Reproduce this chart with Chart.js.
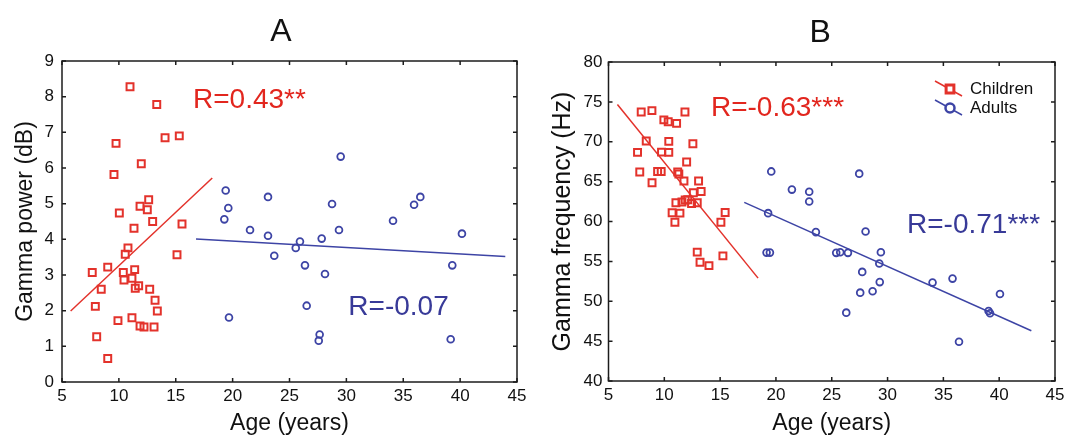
<!DOCTYPE html>
<html>
<head>
<meta charset="utf-8">
<script src="https://cdn.jsdelivr.net/npm/chart.js@4/dist/chart.umd.min.js"></script>
<style>
  html, body { margin: 0; padding: 0; background: #fff; }
  .panel { position: absolute; top: 0; }
  #wrapA { left: 0; }
  #wrapB { left: 540px; }
</style>
</head>
<body>
<div class="panel" id="wrapA"><canvas id="chartA" width="540" height="437"></canvas></div>
<div class="panel" id="wrapB"><canvas id="chartB" width="529" height="437"></canvas></div>
<script>
// Panel A: gamma power vs age
const childAgeA = [10.98, 13.33, 9.75, 14.06, 15.31, 11.97, 9.57, 12.62, 11.86, 12.5, 10.04, 12.97, 11.33, 15.55,
  10.8, 10.56, 15.11, 9.02, 7.66, 10.39, 11.39, 10.45, 11.15, 11.44, 11.74, 8.45, 12.71, 13.18, 13.38,
  7.93, 9.92, 11.15, 11.86, 12.21, 13.09, 8.05, 9.02];
const childPowerA = [8.28, 7.78, 6.69, 6.85, 6.9, 6.12, 5.82, 5.11, 4.93, 4.83, 4.74, 4.5, 4.31, 4.43,
  3.76, 3.58, 3.57, 3.22, 3.07, 3.07, 3.15, 2.86, 2.91, 2.63, 2.7, 2.6, 2.6, 2.29, 1.99,
  2.12, 1.72, 1.8, 1.57, 1.54, 1.54, 1.27, 0.66];
const adultAgeA = [29.5, 19.39, 23.11, 36.5, 35.95, 28.74, 19.62, 19.27, 34.1, 21.53, 29.35, 40.16, 23.11,
  27.83, 25.92, 25.55, 23.66, 39.31, 26.36, 28.12, 26.51, 19.68, 27.65, 27.57, 39.17];
const adultPowerA = [6.32, 5.37, 5.19, 5.19, 4.97, 4.99, 4.88, 4.56, 4.52, 4.26, 4.26, 4.16, 4.1,
  4.02, 3.94, 3.76, 3.54, 3.27, 3.27, 3.03, 2.14, 1.81, 1.33, 1.16, 1.2];
const childFitAgeA = [5.76, 18.21];
const childFitPowerA = [1.99, 5.72];
const adultFitAgeA = [16.78, 43.97];
const adultFitPowerA = [4.01, 3.52];

// Panel B: gamma frequency vs age
const childAgeB = [7.93, 8.89, 9.96, 10.35, 11.1, 11.85, 8.38, 10.4, 12.56, 7.6, 9.75, 10.4, 12.0, 7.8,
  9.4, 9.72, 11.2, 11.3, 8.9, 11.76, 13.07, 13.3, 12.6, 11.04, 11.58, 11.87, 12.1, 12.44, 12.95,
  10.7, 11.4, 10.95, 15.45, 15.07, 12.95, 13.2, 14.0, 15.25];
const childFreqB = [73.74, 73.9, 72.74, 72.5, 72.3, 73.74, 70.1, 70.05, 69.76, 68.67, 68.7, 68.67, 67.46, 66.2,
  66.28, 66.28, 66.2, 65.95, 64.86, 65.07, 65.07, 63.77, 63.6, 62.35, 62.44, 62.69, 62.73, 62.26, 62.35,
  61.1, 61.05, 59.9, 61.13, 59.9, 56.16, 54.9, 54.47, 55.69];
const adultAgeB = [19.58, 27.46, 21.43, 22.98, 22.98, 19.3, 23.58, 28.03, 19.16, 19.46, 25.4, 25.76, 26.45,
  29.4, 29.26, 27.73, 29.3, 27.55, 28.66, 34.03, 35.82, 40.07, 39.05, 39.18, 26.3, 36.4];
const adultFreqB = [66.28, 66.0, 64.0, 63.73, 62.5, 61.05, 58.67, 58.74, 56.1, 56.1, 56.07, 56.15, 56.07,
  56.15, 54.73, 53.68, 52.4, 51.08, 51.25, 52.34, 52.84, 50.9, 48.78, 48.5, 48.57, 44.92];
const childFitAgeB = [5.8, 18.4];
const childFitFreqB = [74.66, 52.9];
const adultFitAgeB = [17.16, 42.88];
const adultFitFreqB = [62.39, 46.3];

const groupNames = ['Children', 'Adults'];

const RED = '#e3322b';
const BLUE = '#3d44a5';
const RED_TXT = '#e2261e';
const BLUE_TXT = '#383a98';
const FONT = '"Liberation Sans", Arial, Helvetica, sans-serif';

const zip = (xs, ys) => xs.map((x, i) => ({ x: x, y: ys[i] }));

// frame with inward ticks, panel letter, R values and (optionally) the legend
function makeDeco(cfg) {
  return {
    id: 'panelDeco',
    beforeDatasetsDraw(chart) {
      const { ctx, chartArea: a, scales } = chart;
      ctx.save();
      ctx.strokeStyle = '#1c1c1c';
      ctx.lineWidth = 1.5;
      ctx.strokeRect(a.left, a.top, a.right - a.left, a.bottom - a.top);
      ctx.beginPath();
      scales.x.ticks.forEach(t => {
        const px = scales.x.getPixelForValue(t.value);
        ctx.moveTo(px, a.bottom); ctx.lineTo(px, a.bottom - 4);
        ctx.moveTo(px, a.top); ctx.lineTo(px, a.top + 4);
      });
      scales.y.ticks.forEach(t => {
        const py = scales.y.getPixelForValue(t.value);
        ctx.moveTo(a.left, py); ctx.lineTo(a.left + 4, py);
        ctx.moveTo(a.right, py); ctx.lineTo(a.right - 4, py);
      });
      ctx.stroke();
      ctx.restore();
    },
    afterDatasetsDraw(chart) {
      const { ctx, chartArea: a, scales } = chart;
      ctx.save();
      // panel letter
      ctx.fillStyle = '#111';
      ctx.font = '32px ' + FONT;
      ctx.textAlign = 'center';
      ctx.textBaseline = 'alphabetic';
      ctx.fillText(cfg.letter, a.left + (a.right - a.left) * cfg.letterFrac, a.top - 20);
      // correlation notes
      ctx.font = '28px ' + FONT;
      ctx.textAlign = 'left';
      cfg.notes.forEach(n => {
        ctx.fillStyle = n.color;
        ctx.fillText(n.text, scales.x.getPixelForValue(n.x), scales.y.getPixelForValue(n.y));
      });
      // legend
      if (cfg.legend) {
        const rows = [chart.data.datasets[0], chart.data.datasets[1]];
        rows.forEach((ds, i) => {
          const cx = a.right - 105;
          const cy = a.top + 27 + i * 19;
          ctx.strokeStyle = ds.borderColor;
          ctx.lineWidth = 1.5;
          ctx.beginPath();
          ctx.moveTo(cx - 15, cy - 8);
          ctx.lineTo(cx + 12, cy + 7);
          ctx.stroke();
          ctx.fillStyle = '#fff';
          ctx.lineWidth = ds.pointStyle === 'rect' ? 3 : 2.5;
          Chart.helpers.drawPoint(ctx, {
            pointStyle: ds.pointStyle,
            radius: ds.pointStyle === 'rect' ? 5.5 : 4.5,
            borderWidth: ctx.lineWidth,
            rotation: 0
          }, cx, cy);
          ctx.fillStyle = '#111';
          ctx.font = '17px ' + FONT;
          ctx.textBaseline = 'middle';
          ctx.fillText(ds.label, a.right - 85, cy);
        });
      }
      ctx.restore();
    }
  };
}

function makePanel(id, p) {
  const tickFont = { family: FONT, size: 17 };
  return new Chart(document.getElementById(id), {
    type: 'scatter',
    data: {
      datasets: [
        {
          label: groupNames[0], data: zip(p.childX, p.childY),
          pointStyle: 'rect', pointRadius: 4.9, pointHoverRadius: 4.9, pointBorderWidth: 2,
          borderColor: RED, backgroundColor: 'rgba(255,255,255,0)'
        },
        {
          label: groupNames[1], data: zip(p.adultX, p.adultY),
          pointStyle: 'circle', pointRadius: 3.4, pointHoverRadius: 3.4, pointBorderWidth: 1.8,
          borderColor: BLUE, backgroundColor: 'rgba(255,255,255,0)'
        },
        {
          type: 'line', label: 'fit children', data: zip(p.childFitX, p.childFitY),
          borderColor: RED, borderWidth: 1.5, pointRadius: 0, fill: false
        },
        {
          type: 'line', label: 'fit adults', data: zip(p.adultFitX, p.adultFitY),
          borderColor: BLUE, borderWidth: 1.5, pointRadius: 0, fill: false
        }
      ]
    },
    options: {
      responsive: false,
      animation: false,
      events: [],
      layout: { padding: { left: 0, top: p.top, right: p.right, bottom: 0 } },
      plugins: { legend: { display: false }, tooltip: { enabled: false } },
      scales: {
        x: {
          type: 'linear', min: 5, max: 45,
          ticks: { stepSize: 5, padding: 4, font: tickFont, color: '#111' },
          grid: { display: false, drawTicks: false }, border: { display: false },
          title: {
            display: true, text: 'Age (years)', color: '#111',
            font: { family: FONT, size: 23 }, padding: { top: 0, bottom: 0 }
          },
          afterFit(s) { s.height = p.xHeight; }
        },
        y: {
          type: 'linear', min: p.yMin, max: p.yMax,
          ticks: { stepSize: p.yStep, padding: p.yPad, font: tickFont, color: '#111' },
          grid: { display: false, drawTicks: false }, border: { display: false },
          title: {
            display: true, text: p.yTitle, color: '#111',
            font: { family: FONT, size: p.yTitleSize }, padding: { top: p.yTitlePad, bottom: 0 }
          },
          afterFit(s) { s.width = p.yWidth; }
        }
      }
    },
    plugins: [makeDeco(p.deco)]
  });
}

makePanel('chartA', {
  childX: childAgeA, childY: childPowerA, adultX: adultAgeA, adultY: adultPowerA,
  childFitX: childFitAgeA, childFitY: childFitPowerA, adultFitX: adultFitAgeA, adultFitY: adultFitPowerA,
  top: 61, right: 23, xHeight: 55, yWidth: 62, yPad: 8,
  yMin: 0, yMax: 9, yStep: 1,
  yTitle: 'Gamma power (dB)', yTitleSize: 23, yTitlePad: 12,
  deco: {
    letter: 'A', letterFrac: 0.481, legend: false,
    notes: [
      { text: 'R=0.43**', x: 16.52, y: 7.68, color: RED_TXT },
      { text: 'R=-0.07', x: 30.17, y: 1.87, color: BLUE_TXT }
    ]
  }
});

makePanel('chartB', {
  childX: childAgeB, childY: childFreqB, adultX: adultAgeB, adultY: adultFreqB,
  childFitX: childFitAgeB, childFitY: childFitFreqB, adultFitX: adultFitAgeB, adultFitY: adultFitFreqB,
  top: 62, right: 14, xHeight: 56, yWidth: 68.5, yPad: 6,
  yMin: 40, yMax: 80, yStep: 5,
  yTitle: 'Gamma frequency (Hz)', yTitleSize: 25, yTitlePad: 8,
  deco: {
    letter: 'B', letterFrac: 0.474, legend: true,
    notes: [
      { text: 'R=-0.63***', x: 14.18, y: 73.19, color: RED_TXT },
      { text: 'R=-0.71***', x: 31.74, y: 58.54, color: BLUE_TXT }
    ]
  }
});
</script>
</body>
</html>
